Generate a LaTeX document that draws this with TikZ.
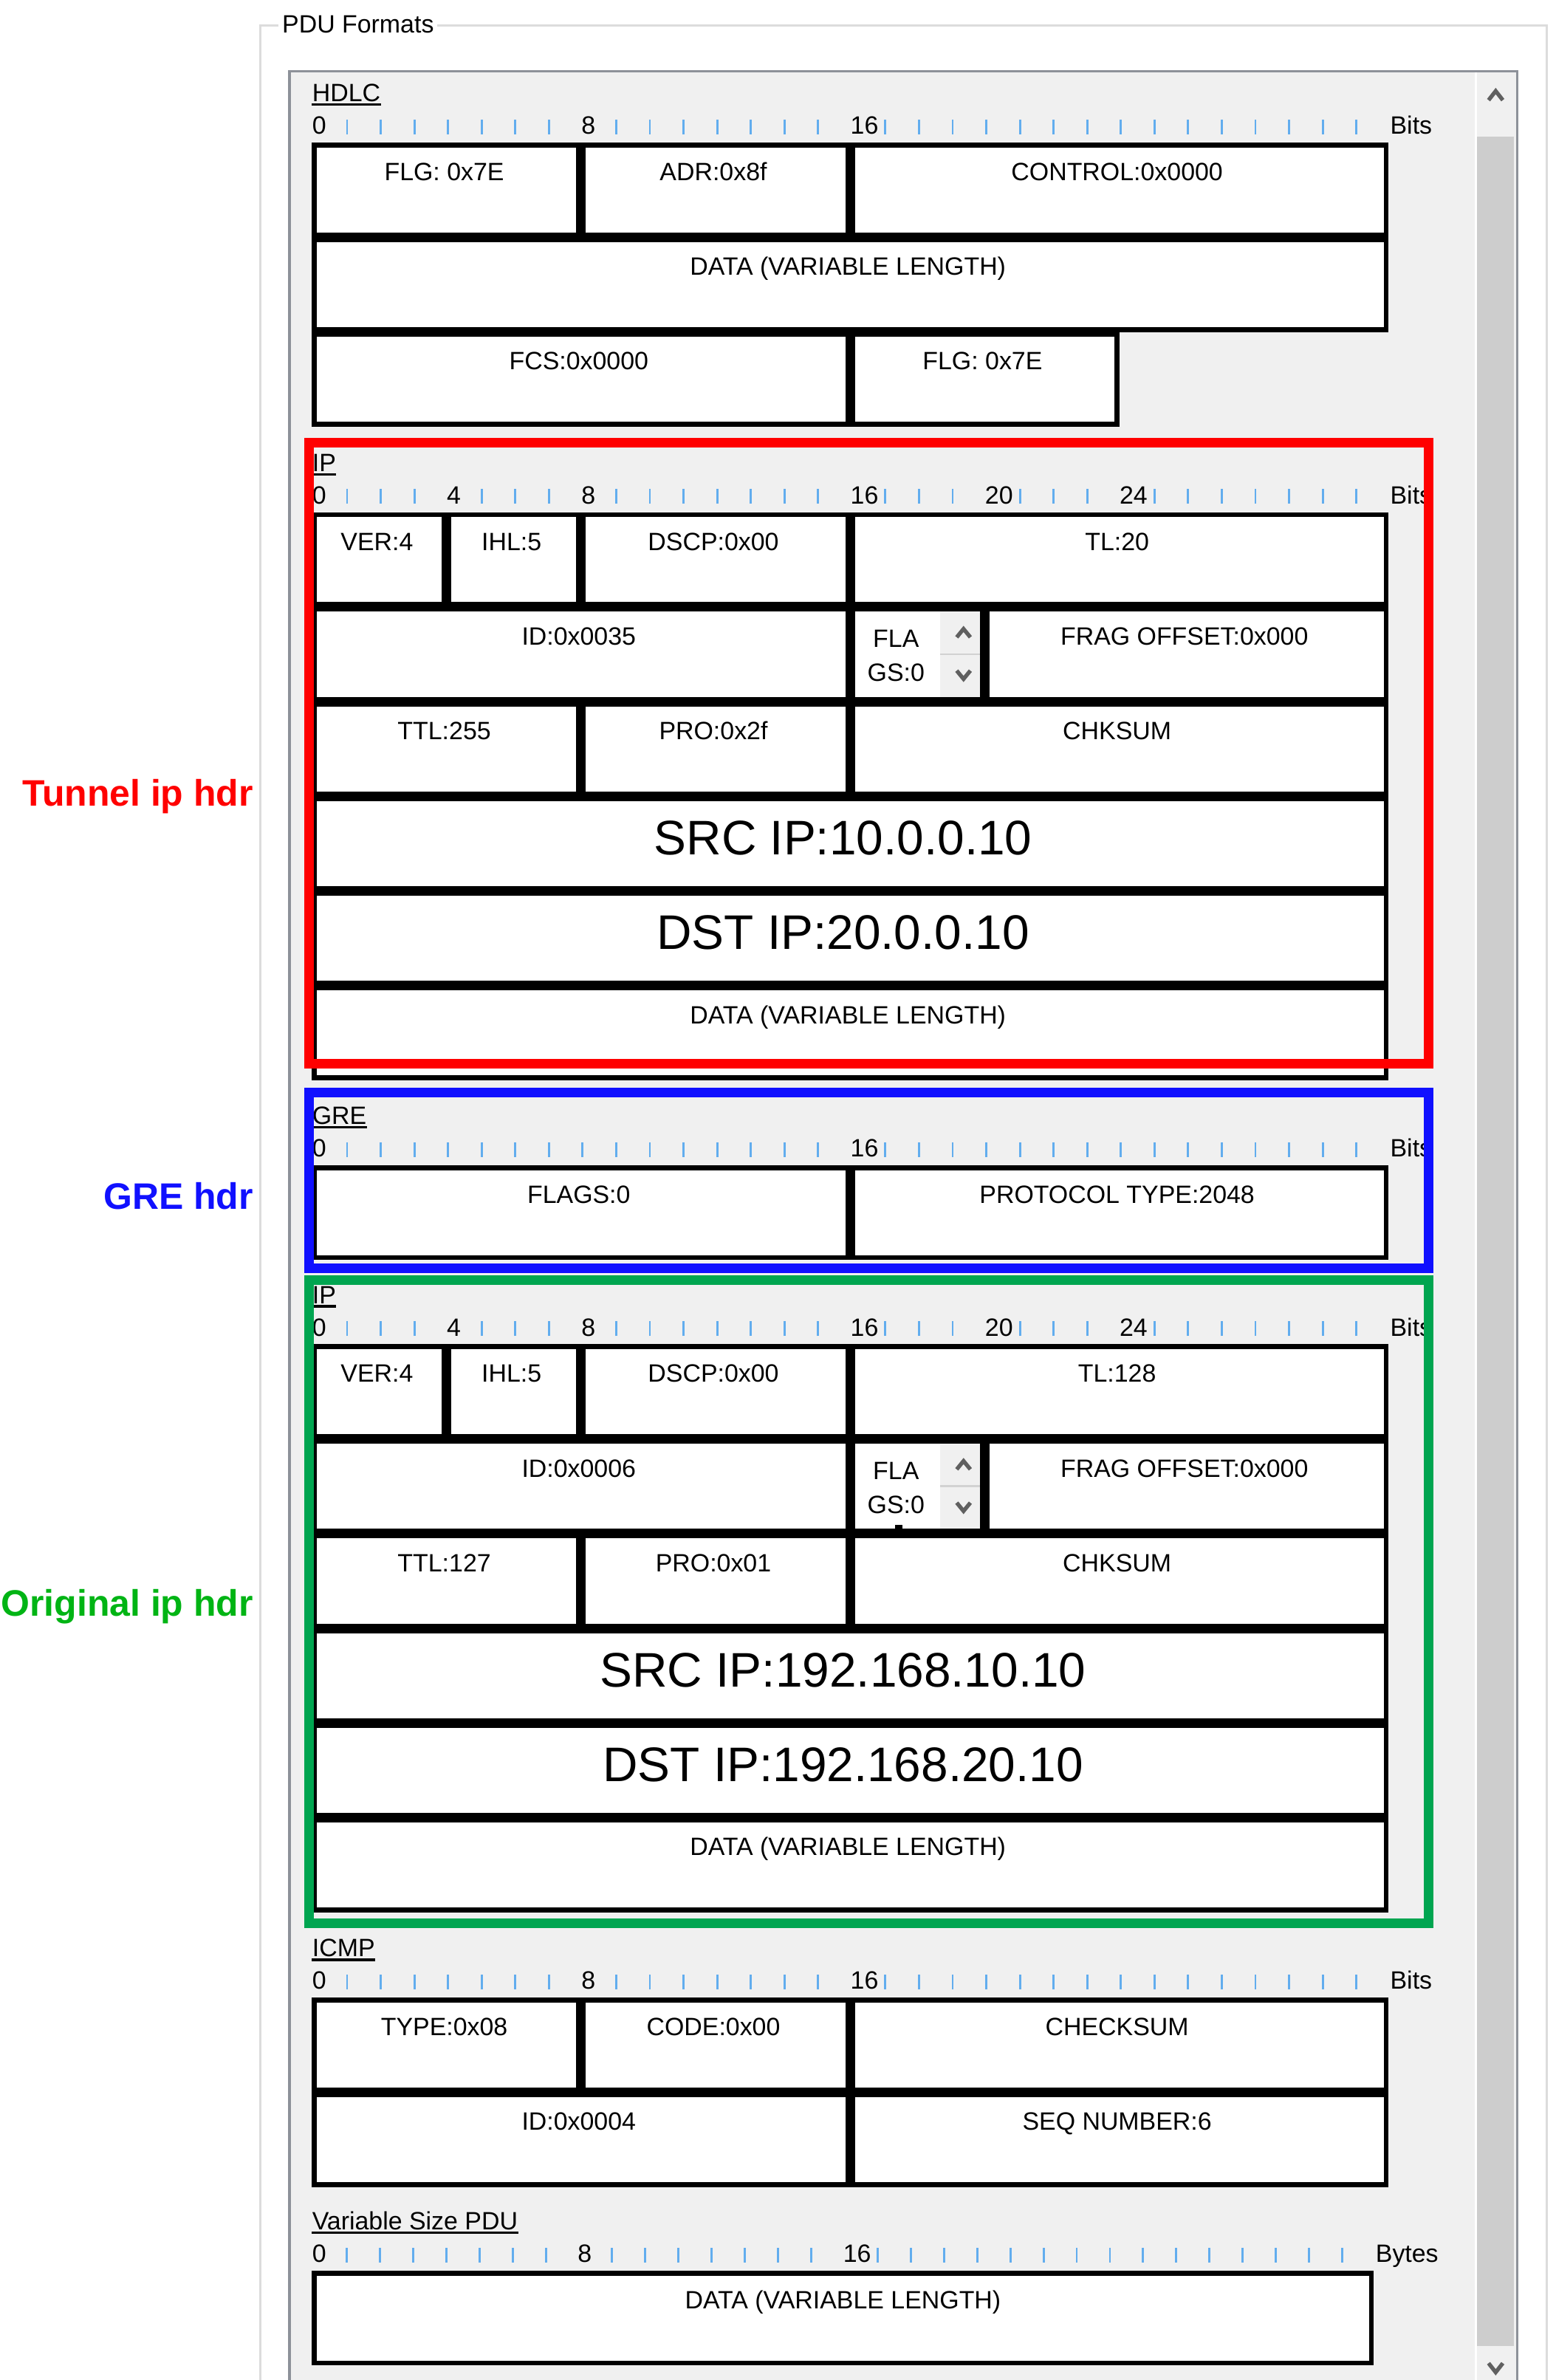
\documentclass[tikz,border=0pt]{standalone}
\usepackage{fontspec}
\setmainfont{Liberation Sans}
\usepackage{xcolor}
\usepackage{tikz}
\usetikzlibrary{positioning}
\definecolor{panelgray}{HTML}{F0F0F0}
\definecolor{panelborder}{HTML}{8D9199}
\definecolor{groupline}{HTML}{DCDCDC}
\definecolor{tickblue}{HTML}{62ADEE}
\definecolor{thumbgray}{HTML}{CDCDCD}
\definecolor{arrowgray}{HTML}{606060}
\definecolor{sepgray}{HTML}{D2D2D2}
\definecolor{tunnelred}{HTML}{FF0000}
\definecolor{greblue}{HTML}{1010FF}
\definecolor{origgreen}{HTML}{00A550}
\definecolor{origtext}{HTML}{00B414}

\newcommand{\pdufont}{\fontsize{16.5}{19}\selectfont}
\newcommand{\pduleft}{205.6}
\newcommand{\bitw}{22.17}
\newcommand{\varbitw}{21.87}
\newcommand{\rowh}{62.4}

% field box: row top, first bit, last bit
\newcommand{\pducell}[3]{%
    \draw[fieldbox] ({\pduleft+#2*\bitw+1.6},{#1+1.6}) rectangle ({\pduleft+#3*\bitw-1.6},{#1+\rowh-1.6});}
% field with its text: name, row top, first bit, last bit, text
\newcommand{\pdufield}[5]{%
    \pducell{#2}{#3}{#4}
    \node[fieldtext] (#1) at ({\pduleft+(#3+#4)/2*\bitw-1.5},{#2+25}) {#5};}
\newcommand{\bigfield}[3]{%
    \pducell{#2}{0}{32}
    \node[bigtext] (#1) at ({\pduleft+16*\bitw-4.7},{#2+38.5}) {#3};}
% flags spinner: name, row top
\newcommand{\flagspin}[2]{%
    \pducell{#2}{16}{20}
    \fill[panelgray] (619.4,{#2+3.2}) rectangle ({\pduleft+20*\bitw-3.2},{#2+\rowh-3.2});
    \draw[sepgray, line width=1.2] (619.4,{#2+31.1}) -- ({\pduleft+20*\bitw-3.2},{#2+31.1});
    \node[fieldtext] (#1a) at (590.5,{#2+26.5}) {FLA};
    \node[fieldtext] (#1b) at (590.5,{#2+49}) {GS:0};
    \draw[chevron] (630.5,{#2+20}) -- (635,{#2+14.5}) -- (639.5,{#2+20});
    \draw[chevron] (630.5,{#2+42}) -- (635,{#2+47.5}) -- (639.5,{#2+42});}
% title: name, box top, text
\newcommand{\pdutitle}[3]{%
    \node[pduname] (#1) at (\pduleft,{#2-27}) {#3};
    \draw[uline] ([yshift=-2pt]#1.base west) -- ([yshift=-2pt]#1.base east);}
% ruler: prefix, baseline, bit width, numbered bits, tick ranges, unit
\newcommand{\bitruler}[6]{%
    \foreach \b in {#4}
        \node[rulenum] (#1\b) at ({\pduleft+\b*#3},#2) {\b};
    \foreach \a/\z in {#5}
        \foreach \b in {\a,...,\z}
            \draw[rulertick] ({\pduleft+\b*#3+1},#2) -- ++(0,-9.7);
    \node[rulenum] (#1unit) at ({\pduleft+32*#3+1},#2) {#6};}

\begin{document}
\begin{tikzpicture}[x=1pt, y=-1pt,
    fieldbox/.style={draw=black, fill=white, line width=3.2},
    fieldtext/.style={anchor=base, inner sep=0pt, font=\pdufont},
    bigtext/.style={anchor=base, inner sep=0pt, font=\fontsize{32}{36}\selectfont},
    rulenum/.style={anchor=base west, inner sep=0pt, font=\pdufont},
    pduname/.style={anchor=base west, inner sep=0pt, font=\pdufont},
    uline/.style={line width=1.6},
    rulertick/.style={draw=tickblue, line width=1.4},
    chevron/.style={draw=arrowgray, line width=2.6},
    hilite/.style={line width=6.2},
    sidelabel/.style={anchor=base east, inner sep=0pt, font=\fontsize{24.3}{28}\selectfont\bfseries}]

    \useasboundingbox (0,0) rectangle (1025,1568.6);
    \fill[white] (0,0) rectangle (1025,1568.6);

    % group box and panel
    \node[pduname] (pduformats) at (185.8,21.9) {PDU Formats};
    \draw[groupline, line width=1.5] (183.3,16.9) -- (171.5,16.9) -- (171.5,1568.6);
    \draw[groupline, line width=1.5] (288,16.9) -- (1019.5,16.9) -- (1019.5,1568.6);
    \fill[panelgray] (190.7,47) rectangle (999.8,1568.6);
    \draw[panelborder, line width=1.7] (190.7,1568.6) -- (190.7,47) -- (999.8,47) -- (999.8,1568.6);
    \fill[white] (971.8,47.9) rectangle (973.5,1568.6);
    \fill[thumbgray] (973.5,90) rectangle (997.7,1546);
    \draw[chevron] (981,66) -- (985.7,60) -- (990.4,66);
    \draw[chevron] (981,1557.5) -- (985.7,1563.5) -- (990.4,1557.5);

    % HDLC
    \pdutitle{hdlc}{94}{HDLC}
    \bitruler{hr}{88.5}{\bitw}{0,8,16}{1/7,9/15,17/31}{Bits}
    \pdufield{hflg}{94}{0}{8}{FLG: 0x7E}
    \pdufield{hadr}{94}{8}{16}{ADR:0x8f}
    \pdufield{hctl}{94}{16}{32}{CONTROL:0x0000}
    \pdufield{hdata}{156.4}{0}{32}{DATA (VARIABLE LENGTH)}
    \pdufield{hfcs}{218.8}{0}{16}{FCS:0x0000}
    \pdufield{hflgend}{218.8}{16}{24}{FLG: 0x7E}

    % tunnel IP
    \pdutitle{tip}{337.6}{IP}
    \bitruler{tr}{332}{\bitw}{0,4,8,16,20,24}{1/3,5/7,9/15,17/19,21/23,25/31}{Bits}
    \pdufield{tver}{337.6}{0}{4}{VER:4}
    \pdufield{tihl}{337.6}{4}{8}{IHL:5}
    \pdufield{tdscp}{337.6}{8}{16}{DSCP:0x00}
    \pdufield{tlen}{337.6}{16}{32}{TL:20}
    \pdufield{tid}{400}{0}{16}{ID:0x0035}
    \flagspin{tflags}{400}
    \pdufield{tfrag}{400}{20}{32}{FRAG OFFSET:0x000}
    \pdufield{tttl}{462.4}{0}{8}{TTL:255}
    \pdufield{tpro}{462.4}{8}{16}{PRO:0x2f}
    \pdufield{tsum}{462.4}{16}{32}{CHKSUM}
    \bigfield{tsrc}{524.8}{SRC IP:10.0.0.10}
    \bigfield{tdst}{587.2}{DST IP:20.0.0.10}
    \pdufield{tdata}{649.6}{0}{32}{DATA (VARIABLE LENGTH)}

    % GRE
    \pdutitle{gre}{768}{GRE}
    \bitruler{gr}{762.5}{\bitw}{0,16}{1/15,17/31}{Bits}
    \pdufield{gflags}{768}{0}{16}{FLAGS:0}
    \pdufield{gproto}{768}{16}{32}{PROTOCOL TYPE:2048}

    % original IP
    \pdutitle{oip}{886}{IP}
    \bitruler{or}{880.5}{\bitw}{0,4,8,16,20,24}{1/3,5/7,9/15,17/19,21/23,25/31}{Bits}
    \pdufield{over}{886}{0}{4}{VER:4}
    \pdufield{oihl}{886}{4}{8}{IHL:5}
    \pdufield{odscp}{886}{8}{16}{DSCP:0x00}
    \pdufield{olen}{886}{16}{32}{TL:128}
    \pdufield{oid}{948.4}{0}{16}{ID:0x0006}
    \flagspin{oflags}{948.4}
    \fill[black] (589.7,1005) rectangle (594.6,1008);
    \pdufield{ofrag}{948.4}{20}{32}{FRAG OFFSET:0x000}
    \pdufield{ottl}{1010.8}{0}{8}{TTL:127}
    \pdufield{opro}{1010.8}{8}{16}{PRO:0x01}
    \pdufield{osum}{1010.8}{16}{32}{CHKSUM}
    \bigfield{osrc}{1073.2}{SRC IP:192.168.10.10}
    \bigfield{odst}{1135.6}{DST IP:192.168.20.10}
    \pdufield{odata}{1198}{0}{32}{DATA (VARIABLE LENGTH)}

    % ICMP
    \pdutitle{icmp}{1316.6}{ICMP}
    \bitruler{ir}{1311}{\bitw}{0,8,16}{1/7,9/15,17/31}{Bits}
    \pdufield{itype}{1316.6}{0}{8}{TYPE:0x08}
    \pdufield{icode}{1316.6}{8}{16}{CODE:0x00}
    \pdufield{isum}{1316.6}{16}{32}{CHECKSUM}
    \pdufield{iid}{1379}{0}{16}{ID:0x0004}
    \pdufield{iseq}{1379}{16}{32}{SEQ NUMBER:6}

    % variable size PDU
    \pdutitle{vpdu}{1496.6}{Variable Size PDU}
    \bitruler{vr}{1491}{\varbitw}{0,8,16}{1/7,9/15,17/31}{Bytes}
    \draw[fieldbox] ({\pduleft+1.6},1498.2) rectangle ({\pduleft+32*\varbitw-1.6},{1496.6+\rowh-1.6});
    \node[fieldtext] (vdata) at ({\pduleft+16*\varbitw},1521.6) {DATA (VARIABLE LENGTH)};

    % highlight boxes and their labels
    \draw[hilite, draw=tunnelred] (203.8,291.6) rectangle (941.6,700.9);
    \draw[hilite, draw=greblue] (203.8,719.9) rectangle (941.6,835.7);
    \draw[hilite, draw=origgreen] (203.8,843.7) rectangle (941.6,1267.7);
    \node[sidelabel, text=tunnelred] (tunnellbl) at (167,531) {Tunnel ip hdr};
    \node[sidelabel, text=greblue] (grelbl) at (167,797) {GRE hdr};
    \node[sidelabel, text=origtext] (origlbl) at (167,1065) {Original ip hdr};
\end{tikzpicture}
\end{document}
